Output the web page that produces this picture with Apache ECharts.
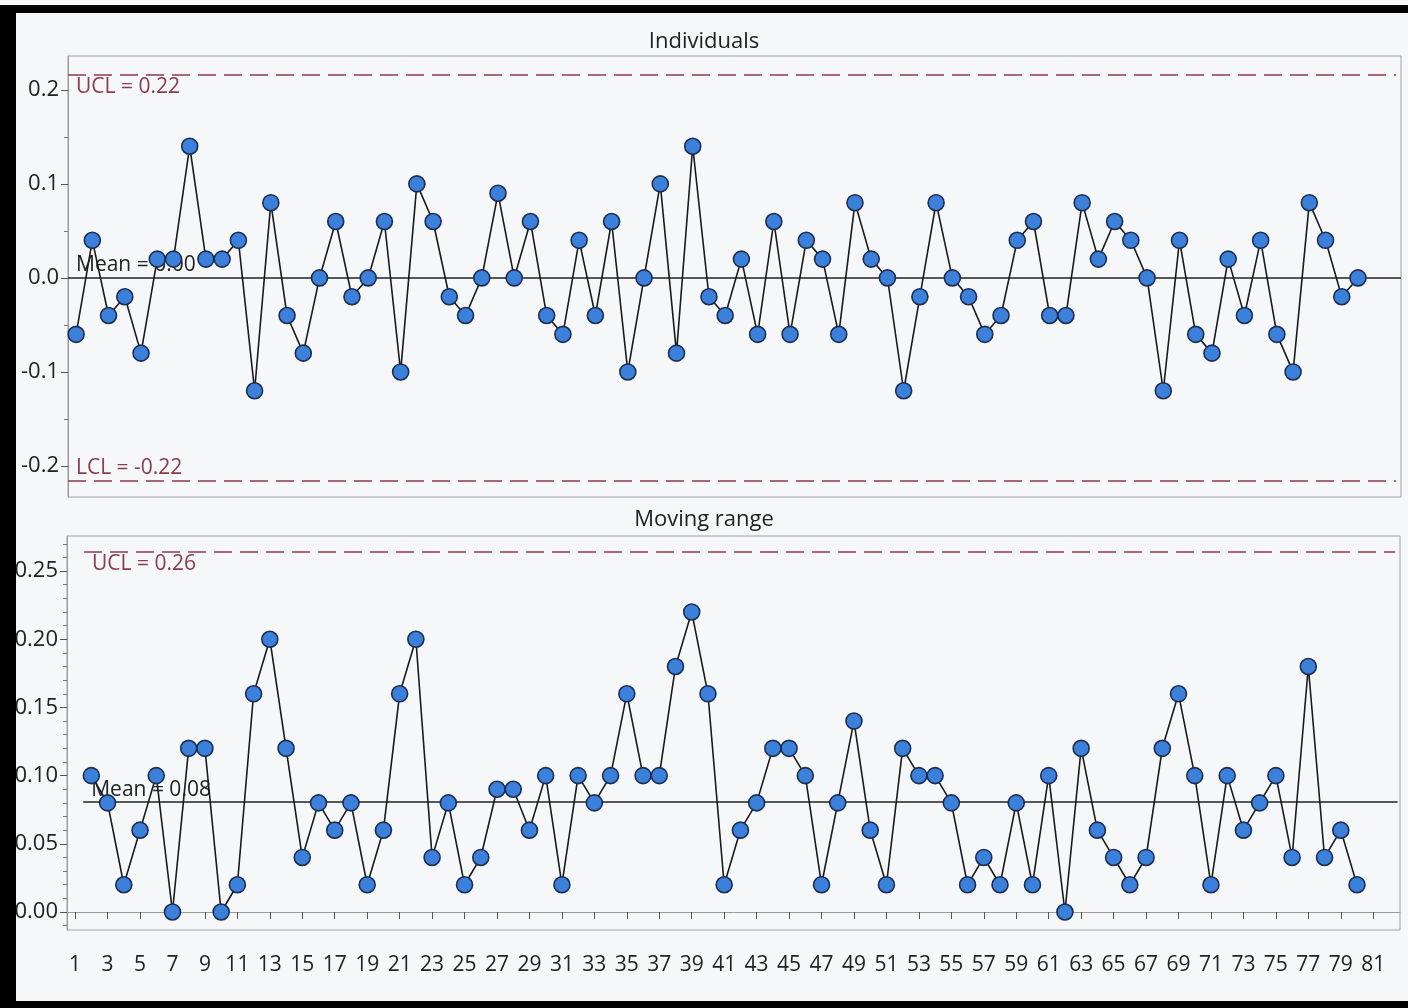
<!DOCTYPE html>
<html>
<head>
<meta charset="utf-8">
<script src="https://cdn.jsdelivr.net/npm/echarts@6/dist/echarts.min.js"></script>
<style>
  html, body { margin: 0; padding: 0; background: #f6f7f9; }
  #chart { width: 1408px; height: 1008px; }
</style>
</head>
<body>
<div id="chart"></div>
<script>
// ---- data ----
const individuals = [
  -0.06, 0.04, -0.04, -0.02, -0.08, 0.02, 0.02, 0.14, 0.02, 0.02,
   0.04, -0.12, 0.08, -0.04, -0.08, 0.00, 0.06, -0.02, 0.00, 0.06,
  -0.10, 0.10, 0.06, -0.02, -0.04, 0.00, 0.09, 0.00, 0.06, -0.04,
  -0.06, 0.04, -0.04, 0.06, -0.10, 0.00, 0.10, -0.08, 0.14, -0.02,
  -0.04, 0.02, -0.06, 0.06, -0.06, 0.04, 0.02, -0.06, 0.08, 0.02,
   0.00, -0.12, -0.02, 0.08, 0.00, -0.02, -0.06, -0.04, 0.04, 0.06,
  -0.04, -0.04, 0.08, 0.02, 0.06, 0.04, 0.00, -0.12, 0.04, -0.06,
  -0.08, 0.02, -0.04, 0.04, -0.06, -0.10, 0.08, 0.04, -0.02, 0.00
];
// moving range values for observations 2..80
const movingRange = [
  0.10, 0.08, 0.02, 0.06, 0.10, 0.00, 0.12, 0.12, 0.00, 0.02,
  0.16, 0.20, 0.12, 0.04, 0.08, 0.06, 0.08, 0.02, 0.06, 0.16,
  0.20, 0.04, 0.08, 0.02, 0.04, 0.09, 0.09, 0.06, 0.10, 0.02,
  0.10, 0.08, 0.10, 0.16, 0.10, 0.10, 0.18, 0.22, 0.16, 0.02,
  0.06, 0.08, 0.12, 0.12, 0.10, 0.02, 0.08, 0.14, 0.06, 0.02,
  0.12, 0.10, 0.10, 0.08, 0.02, 0.04, 0.02, 0.08, 0.02, 0.10,
  0.00, 0.12, 0.06, 0.04, 0.02, 0.04, 0.12, 0.16, 0.10, 0.02,
  0.10, 0.06, 0.08, 0.10, 0.04, 0.18, 0.04, 0.06, 0.02
];
const indLimits = { ucl: 0.216, mean: 0.0, lcl: -0.216 };
const mrLimits = { ucl: 0.264, mean: 0.0806 };
const xTickLabels = [1,3,5,7,9,11,13,15,17,19,21,23,25,27,29,31,33,35,37,39,41,43,45,47,49,51,53,55,57,59,61,63,65,67,69,71,73,75,77,79,81];
const indYLabels = [-0.2, -0.1, 0.0, 0.1, 0.2];
const indYMinor = [-0.15, -0.05, 0.05, 0.15];
const mrYLabels = [0.00, 0.05, 0.10, 0.15, 0.20, 0.25];
const mrYMinor = [-0.01,0.01,0.02,0.03,0.04,0.06,0.07,0.08,0.09,0.11,0.12,0.13,0.14,0.16,0.17,0.18,0.19,0.21,0.22,0.23,0.24,0.26,0.27];

// ---- chart ----
const FONT = '"Open Sans", "Noto Sans", sans-serif';
const TXT = '#222';
const LIMIT_COLOR = '#8c3b4c';
const X_MIN = 0.5, X_MAX = 82.65;

const indData = individuals.map((v, i) => [i + 1, v]);
const mrData = movingRange.map((v, i) => [i + 2, v]);

const pointStyle = {
  type: 'line',
  symbol: 'circle',
  symbolSize: 16,
  showAllSymbol: true,
  lineStyle: { color: '#1a1a1a', width: 1.6 },
  itemStyle: { color: '#3b80da', borderColor: '#1c2d52', borderWidth: 1.6 },
  z: 5,
  animation: false
};

function limitLine(x0, x1, y, label, pos, dashed, color) {
  return [
    { coord: [x0, y], lineStyle: { color: color, width: 1.5, type: dashed ? [18, 8] : 'solid' },
      label: { show: true, formatter: label, position: pos, color: dashed ? LIMIT_COLOR : TXT,
               fontFamily: FONT, fontSize: 21, distance: [8, 2] } },
    { coord: [x1, y] }
  ];
}

const valueAxisBase = {
  type: 'value',
  position: 'left',
  axisLine: { show: true, lineStyle: { color: '#9a9a9a', width: 1 } },
  splitLine: { show: false }
};

const option = {
  backgroundColor: '#f6f7f9',
  animation: false,
  graphic: [
    { type: 'rect', shape: { x: 0, y: 5, width: 1408, height: 8 }, style: { fill: '#000' }, z: 100 },
    { type: 'rect', shape: { x: 0, y: 5, width: 16, height: 1003 }, style: { fill: '#000' }, z: 100 },
    { type: 'rect', shape: { x: 0, y: 1001, width: 1408, height: 7 }, style: { fill: '#000' }, z: 100 },
    { type: 'text', left: 'center', top: 31, style: { text: 'Individuals', font: '22px ' + FONT, fill: TXT }, z: 50 },
    { type: 'text', left: 'center', top: 509, style: { text: 'Moving range', font: '22px ' + FONT, fill: TXT }, z: 50 }
  ],
  grid: [
    { left: 68, top: 56, width: 1333, height: 441, show: true, borderColor: '#a0a0a0', borderWidth: 1, backgroundColor: 'transparent' },
    { left: 67, top: 536, width: 1333, height: 394, show: true, borderColor: '#a0a0a0', borderWidth: 1, backgroundColor: 'transparent' }
  ],
  xAxis: [
    { type: 'value', gridIndex: 0, min: X_MIN, max: X_MAX, show: false },
    { type: 'value', gridIndex: 1, min: X_MIN, max: X_MAX,
      axisLine: { show: true, lineStyle: { color: '#9a9a9a' } },
      splitLine: { show: false },
      axisTick: { show: true, length: 7, customValues: xTickLabels, lineStyle: { color: '#555' } },
      axisLabel: { show: true, customValues: xTickLabels, margin: 25, color: TXT, fontFamily: FONT, fontSize: 21 } }
  ],
  yAxis: [
    Object.assign({}, valueAxisBase, { gridIndex: 0, min: -0.233, max: 0.236,
      axisTick: { show: true, length: 7, customValues: indYLabels, lineStyle: { color: '#555' } },
      axisLabel: { show: true, customValues: indYLabels, margin: 9, color: TXT, fontFamily: FONT, fontSize: 22,
                   formatter: v => v.toFixed(1) } }),
    Object.assign({}, valueAxisBase, { gridIndex: 0, min: -0.233, max: 0.236,
      axisLine: { show: false },
      axisTick: { show: true, length: 4, customValues: indYMinor, lineStyle: { color: '#777' } },
      axisLabel: { show: false } }),
    Object.assign({}, valueAxisBase, { gridIndex: 1, min: -0.0132, max: 0.2757,
      axisTick: { show: true, length: 7, customValues: mrYLabels, lineStyle: { color: '#555' } },
      axisLabel: { show: true, customValues: mrYLabels, margin: 9, color: TXT, fontFamily: FONT, fontSize: 22,
                   formatter: v => v.toFixed(2) } }),
    Object.assign({}, valueAxisBase, { gridIndex: 1, min: -0.0132, max: 0.2757,
      axisLine: { show: false },
      axisTick: { show: true, length: 4, customValues: mrYMinor, lineStyle: { color: '#777' } },
      axisLabel: { show: false } })
  ],
  series: [
    Object.assign({}, pointStyle, {
      name: 'Individuals', xAxisIndex: 0, yAxisIndex: 0, data: indData,
      markLine: {
        silent: true, symbol: 'none', animation: false,
        data: [
          limitLine(X_MIN, 82.35, indLimits.ucl, 'UCL = ' + indLimits.ucl.toFixed(2), 'insideStartBottom', true, LIMIT_COLOR),
          limitLine(X_MIN, X_MAX, indLimits.mean, 'Mean = ' + indLimits.mean.toFixed(2), 'insideStartTop', false, '#222'),
          limitLine(X_MIN, 82.35, indLimits.lcl, 'LCL = ' + indLimits.lcl.toFixed(2), 'insideStartTop', true, LIMIT_COLOR)
        ]
      }
    }),
    Object.assign({}, pointStyle, {
      name: 'Moving range', xAxisIndex: 1, yAxisIndex: 2, data: mrData,
      markLine: {
        silent: true, symbol: 'none', animation: false,
        data: [
          limitLine(1.55, 82.35, mrLimits.ucl, 'UCL = ' + mrLimits.ucl.toFixed(2), 'insideStartBottom', true, LIMIT_COLOR),
          limitLine(1.5, 82.5, mrLimits.mean, 'Mean = ' + mrLimits.mean.toFixed(2), 'insideStartTop', false, '#222')
        ]
      }
    })
  ]
};

const chart = echarts.init(document.getElementById('chart'), null, { renderer: 'canvas' });
chart.setOption(option);
</script>
</body>
</html>
